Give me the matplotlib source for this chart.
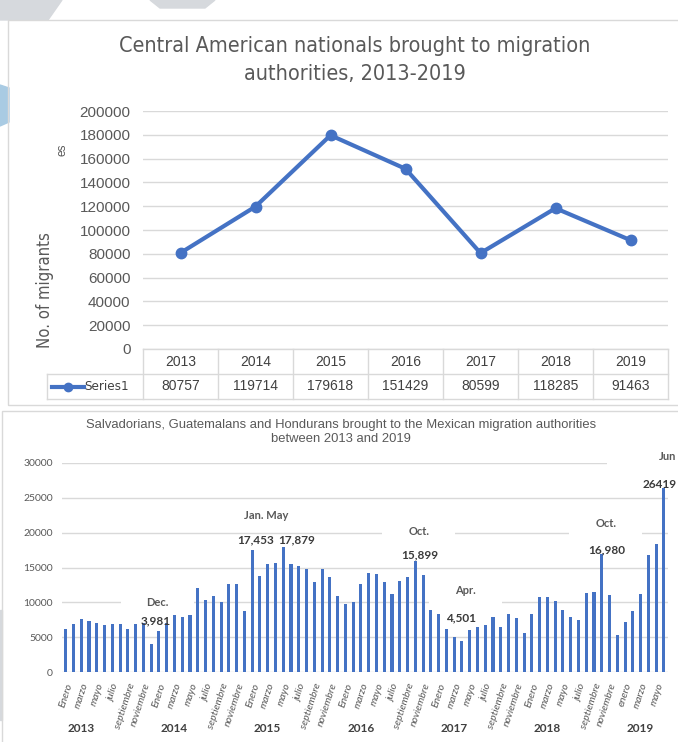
import numpy as np
import matplotlib
matplotlib.use('Agg')
import matplotlib.pyplot as plt
import matplotlib.transforms as mtransforms
from matplotlib.patches import Rectangle, Polygon

# ---- data: annual totals (top chart) ----
years = ['2013', '2014', '2015', '2016', '2017', '2018', '2019']
annual_totals = [80757, 119714, 179618, 151429, 80599, 118285, 91463]

# ---- data: monthly values (bottom chart) ----
m2013 = [6200, 6850, 7650, 7350, 7050, 6750, 6950, 6900, 6150, 6950, 7100, 3981]
m2014 = [5850, 7000, 8150, 7950, 8150, 12050, 10350, 10850, 10100, 12650, 12650, 8750]
m2015 = [17453, 13850, 15500, 15650, 17879, 15500, 15200, 14800, 12850, 14800, 13600, 10850]
m2016 = [9800, 10100, 12650, 14200, 14100, 12950, 11150, 13100, 13700, 15899, 13900, 8900]
m2017 = [8300, 6200, 5050, 4501, 6000, 6400, 6750, 7950, 6450, 8350, 7750, 5600]
m2018 = [8350, 10750, 10750, 10150, 8950, 7900, 7500, 11300, 11450, 16980, 11050, 5250]
m2019 = [7150, 8800, 11200, 16800, 18350, 26419]
monthly = m2013 + m2014 + m2015 + m2016 + m2017 + m2018 + m2019

month_names = ['Enero', 'febrero', 'marzo', 'abril', 'mayo', 'junio', 'julio',
               'agosto', 'septiembre', 'octubre', 'noviembre', 'diciembre']
month_labels = month_names * 6 + ['enero'] + month_names[1:6]

# annotations: (bar index, text)
value_notes = [(11, '3,981'), (24, '17,453'), (28, '17,879'), (45, '15,899'),
               (51, '4,501'), (69, '16,980'), (77, '26419')]
month_notes = [(11, 'Dec.'), (24, 'Jan. May'), (45, 'Oct.'), (51, 'Apr.'),
               (69, 'Oct.'), (77, 'Jun')]

BLUE = '#4472C4'
GRAY_TXT = '#595959'
DARK_TXT = '#404040'
GRID = '#D9D9D9'
NARROW = ['Liberation Sans', 'DejaVu Sans']
CALIBRI = ['Lato', 'DejaVu Sans']

W, H = 678, 742
fig = plt.figure(figsize=(W / 100, H / 100), dpi=100)

def fx(px):
    return px / W

def fy(py):
    return 1 - py / H

# background slide decoration (partly hidden shapes)
fig.add_artist(Polygon([[fx(0), fy(0)], [fx(62), fy(0)], [fx(48), fy(20)], [fx(0), fy(20)]],
                       closed=True, transform=fig.transFigure, color='#D6D9DD', zorder=0))
fig.add_artist(Polygon([[fx(150), fy(0)], [fx(215), fy(0)], [fx(205), fy(8)], [fx(160), fy(8)]],
                       closed=True, transform=fig.transFigure, color='#D6D9DD', zorder=0))
fig.add_artist(Polygon([[fx(0), fy(85)], [fx(9), fy(88)], [fx(9), fy(122)], [fx(0), fy(126)]],
                       closed=True, transform=fig.transFigure, color='#A9CBE3', zorder=0))
fig.add_artist(Polygon([[fx(0), fy(610)], [fx(2), fy(610)], [fx(2), fy(720)], [fx(0), fy(720)]],
                       closed=True, transform=fig.transFigure, color='#D6D9DD', zorder=0))

# chart frames
fig.add_artist(Rectangle((fx(8), fy(405)), fx(700), 385 / H, transform=fig.transFigure,
                         fill=False, edgecolor=GRID, lw=1))
fig.add_artist(Rectangle((fx(2), fy(760)), fx(700), 349 / H, transform=fig.transFigure,
                         fill=False, edgecolor=GRID, lw=1))

# ================= top chart =================
ax1 = fig.add_axes([fx(143), fy(349), 525 / W, 238 / H])
xpos = np.arange(len(years))
ax1.plot(xpos, annual_totals, color=BLUE, lw=3, marker='o', ms=7.5, zorder=3)
ax1.set_yticks(np.arange(0, 200001, 20000))
ax1.set_xticks([])
ax1.yaxis.grid(True, color=GRID, lw=1)
ax1.set_axisbelow(True)
for s in ax1.spines.values():
    s.set_visible(False)
ax1.tick_params(axis='y', length=0, pad=9, labelsize=11, labelcolor=GRAY_TXT)
for lab in ax1.get_yticklabels():
    lab.set_family(NARROW)

# data table under the top chart
trans = mtransforms.blended_transform_factory(ax1.transData, ax1.transAxes)
row_h = 25 / 238
left_x = -0.5 - (143 - 47) / 75
for k in range(len(years) + 1):
    ax1.plot([k - 0.5, k - 0.5], [0, -2 * row_h], transform=trans, clip_on=False, color=GRID, lw=1)
ax1.plot([left_x, left_x], [-row_h, -2 * row_h], transform=trans, clip_on=False, color=GRID, lw=1)
ax1.plot([-0.5, len(years) - 0.5], [0, 0], transform=trans, clip_on=False, color=GRID, lw=1)
for yy in (-row_h, -2 * row_h):
    ax1.plot([left_x, len(years) - 0.5], [yy, yy], transform=trans, clip_on=False, color=GRID, lw=1)
for i, (yr, v) in enumerate(zip(years, annual_totals)):
    ax1.text(i, -0.5 * row_h, yr, transform=trans, ha='center', va='center',
             fontsize=10, color=DARK_TXT, family=NARROW)
    ax1.text(i, -1.5 * row_h, str(v), transform=trans, ha='center', va='center',
             fontsize=10, color=DARK_TXT, family=NARROW)
key_x0 = -0.5 - (143 - 52) / 75
key_x1 = -0.5 - (143 - 84) / 75
ax1.plot([key_x0, key_x1], [-1.5 * row_h] * 2, transform=trans, clip_on=False, color=BLUE, lw=3)
ax1.plot([(key_x0 + key_x1) / 2], [-1.5 * row_h], transform=trans, clip_on=False,
         color=BLUE, marker='o', ms=6)
ax1.text(key_x1, -1.5 * row_h, 'Series1', transform=trans, ha='left', va='center',
         fontsize=9.5, color=DARK_TXT, family='DejaVu Sans', stretch='condensed')
ax1.set_xlim(-0.5, len(years) - 0.5)
ax1.set_ylim(0, 200000)

fig.text(fx(355), fy(60), 'Central American nationals brought to migration\nauthorities, 2013-2019',
         ha='center', va='center', fontsize=15.5, color=GRAY_TXT, family='DejaVu Sans',
         stretch='condensed', linespacing=1.55)
fig.text(fx(45), fy(290), 'No. of migrants', rotation=90, ha='center', va='center',
         fontsize=12, color=GRAY_TXT, family='DejaVu Sans', stretch='condensed')
fig.text(fx(62), fy(150), 'es', rotation=90, ha='center', va='center',
         fontsize=8.5, color=GRAY_TXT, family=NARROW)

# ================= bottom chart =================
n = len(monthly)
ax2 = fig.add_axes([fx(61.8), fy(672), 606 / W, 209 / H])
idx = np.arange(n)
ax2.bar(idx, monthly, width=0.4, color=BLUE, zorder=2)
ax2.set_xlim(-0.5, n - 0.5)
ax2.set_ylim(0, 30000)
ax2.set_yticks(np.arange(0, 30001, 5000))
ax2.yaxis.grid(True, color=GRID, lw=1, zorder=0)
ax2.set_axisbelow(True)
for s in ax2.spines.values():
    s.set_visible(False)
ax2.tick_params(axis='y', length=0, pad=6.5, labelsize=7.5, labelcolor=GRAY_TXT)
for lab in ax2.get_yticklabels():
    lab.set_family(CALIBRI)
ax2.set_xticks(idx[::2])
ax2.set_xticklabels(month_labels[::2], rotation=72, ha='right', va='top',
                    rotation_mode='anchor', fontsize=7.5, color=GRAY_TXT,
                    style='italic', family=CALIBRI)
ax2.tick_params(axis='x', length=0, pad=7)

fig.text(fx(341), fy(432),
         'Salvadorians, Guatemalans and Hondurans brought to the Mexican migration authorities\n'
         'between 2013 and 2019', ha='center', va='center', fontsize=9.4,
         color=GRAY_TXT, family=NARROW, linespacing=1.2)

# year labels under the month labels
trans2 = mtransforms.blended_transform_factory(ax2.transData, ax2.transAxes)
for k, yr in enumerate(years):
    ax2.text(12 * k + 2, (672 - 728) / 209, yr, transform=trans2, ha='center', va='center',
             fontsize=8.5, fontweight='bold', color=DARK_TXT, family=CALIBRI)

# pixel -> data unit conversions
px_x = n / 606
px_y = 30000 / 209

# offsets (px) of annotation centres from the bar top
value_off = {11: (5, 23), 24: (3, 10.5), 28: (13, 7.5), 45: (4, 6), 51: (-1, 22.5),
             69: (5, 4), 77: (-4, 3)}
month_off = {11: (6, 42), 24: (14, 34.5), 45: (3.5, 30), 51: (3.5, 50.5), 69: (4, 30.5),
             77: (-5, 31.5)}

for i, txt in month_notes:
    dx, dy = month_off[i]
    cx = i + dx * px_x
    cy = monthly[i] + dy * px_y
    if txt == 'Jun':
        ax2.add_patch(Rectangle((cx - 52 * px_x, cy - 14 * px_y), 80 * px_x, 24 * px_y,
                                color='white', zorder=1, clip_on=False, lw=0))
        ax2.text(cx, cy, txt, ha='left', va='center', fontsize=8, fontweight='bold',
                 color=GRAY_TXT, family=CALIBRI, zorder=4, clip_on=False)
        continue
    if txt != 'Jan. May':
        ax2.add_patch(Rectangle((cx - 36.5 * px_x, cy - 14 * px_y), 73 * px_x, 24 * px_y,
                                color='white', zorder=1, clip_on=False, lw=0))
    ax2.text(cx, cy, txt, ha='center', va='center', fontsize=8, fontweight='bold',
             color=GRAY_TXT, family=CALIBRI, zorder=4)

for i, txt in value_notes:
    dx, dy = value_off[i]
    ax2.text(i + dx * px_x, monthly[i] + dy * px_y, txt, ha='center', va='center',
             fontsize=8.5, fontweight='bold', color='#3A3A3A', family=CALIBRI, zorder=4)

fig.savefig('out.png', dpi=100)
